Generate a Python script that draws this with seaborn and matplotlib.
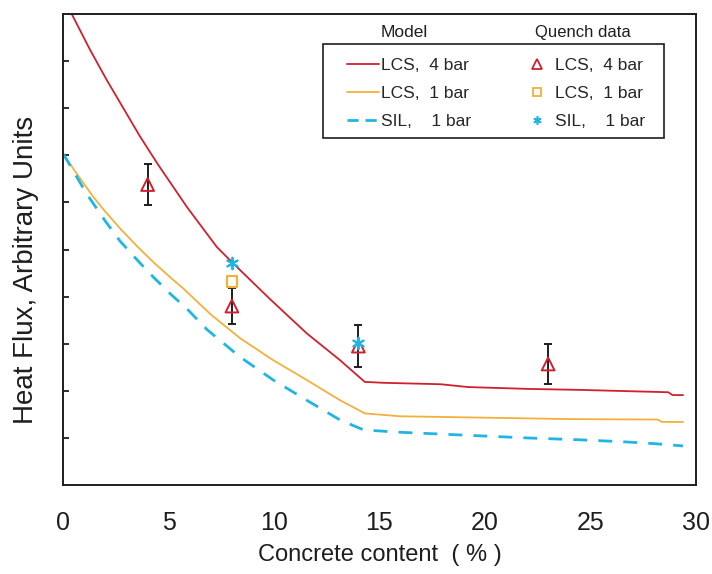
import matplotlib
matplotlib.use("Agg")
import matplotlib.pyplot as plt
from matplotlib.lines import Line2D
from matplotlib.patches import Rectangle
import seaborn as sns

# Model curves: heat flux (arbitrary units) vs concrete content (%)
lcs4_x = [0, 0.4, 1.27, 2.06, 2.85, 3.64, 4.5, 5.87, 7.29, 8.05, 9.8, 11.55, 13.13, 14.3,
          15.2, 17.9, 19.2, 22.1, 24.5, 28.7, 28.9, 29.4]
lcs4_y = [10.35, 10.0, 9.24, 8.6, 8.0, 7.4, 6.8, 5.9, 5.05, 4.71, 3.95, 3.22, 2.65, 2.19,
          2.17, 2.14, 2.08, 2.04, 2.02, 1.97, 1.91, 1.91]

lcs1_x = [0, 0.7, 1.42, 2.0, 2.69, 3.5, 4.3, 5.1, 5.7, 7.0, 8.38, 9.96, 11.55, 13.13, 14.31,
          15.97, 20, 24, 28.2, 28.4, 29.4]
lcs1_y = [7.03, 6.57, 6.12, 5.8, 5.45, 5.07, 4.72, 4.4, 4.17, 3.62, 3.12, 2.65, 2.23, 1.80,
          1.52, 1.46, 1.43, 1.40, 1.39, 1.34, 1.34]

sil1_x = [0, 1.11, 2.0, 2.69, 3.5, 4.26, 5.1, 5.87, 6.82, 8.38, 9.96, 11.55, 13.13, 14.25,
          15.97, 18, 20, 22, 24.5, 26.5, 28, 29.4]
sil1_y = [7.03, 6.18, 5.6, 5.18, 4.78, 4.42, 4.05, 3.74, 3.3, 2.72, 2.23, 1.80, 1.38, 1.17,
          1.12, 1.08, 1.04, 1.00, 0.96, 0.92, 0.88, 0.83]

# Quench data
tri_x = [4, 8, 14, 23]
tri_y = [6.38, 3.80, 2.95, 2.57]
tri_err = [0.43, 0.38, 0.45, 0.43]
sq_x = [8]
sq_y = [4.32]
star_x = [8, 14]
star_y = [4.72, 3.02]

x_ticks = [0, 5, 10, 15, 20, 25, 30]

RED = "#d0202e"
ORANGE = "#f2b03c"
CYAN = "#1fb6e4"
INK = "#1e1e1e"

sns.set_style("white")
plt.rcParams["font.family"] = ["Liberation Sans", "DejaVu Sans"]

fig = plt.figure(figsize=(7.12, 5.74), dpi=100)
ax = fig.add_axes([0.0889, 0.155, 0.8882, 0.8206])

sns.lineplot(x=lcs4_x, y=lcs4_y, ax=ax, color=RED, lw=1.3, sort=False, estimator=None)
sns.lineplot(x=lcs1_x, y=lcs1_y, ax=ax, color=ORANGE, lw=1.3, sort=False, estimator=None)
sns.lineplot(x=sil1_x, y=sil1_y, ax=ax, color=CYAN, lw=2.0, sort=False, estimator=None)
ax.lines[-1].set_dashes([5, 4])

ax.errorbar(tri_x, tri_y, yerr=tri_err, fmt="none", ecolor=INK, elinewidth=1.4,
            capsize=3, capthick=1.4, zorder=3)
sns.scatterplot(x=tri_x, y=tri_y, ax=ax, marker="^", s=85, facecolor="none",
                edgecolor=RED, linewidth=1.4, zorder=4)
sns.scatterplot(x=sq_x, y=sq_y, ax=ax, marker="s", s=55, facecolor="none",
                edgecolor=ORANGE, linewidth=1.6, zorder=4)
sns.scatterplot(x=star_x, y=star_y, ax=ax, marker=(6, 2, 0), s=70, color=CYAN,
                linewidth=1.4, zorder=5)

ax.set_xlim(0, 30)
ax.set_ylim(0, 10)
ax.set_xticks(x_ticks)
ax.set_xticklabels([str(t) for t in x_ticks], fontsize=18)
ax.set_yticks(range(1, 10))
ax.set_yticklabels([])
ax.tick_params(axis="x", direction="out", length=7, width=1.3, pad=12, colors=INK)
ax.tick_params(axis="y", direction="in", length=4, width=1.3, left=True, colors=INK)
for sp in ax.spines.values():
    sp.set_visible(True)
    sp.set_linewidth(1.4)
    sp.set_color(INK)

ax.set_xlabel("Concrete content  ( % )", fontsize=17, labelpad=6, color=INK)
ax.set_ylabel("Heat Flux, Arbitrary Units", fontsize=20, color=INK)
ax.yaxis.set_label_coords(-0.038, 0.456)

# Legend: two columns (model curves / quench data) inside a plain box
handles = [
    Line2D([], [], color=RED, lw=1.3),
    Line2D([], [], color=ORANGE, lw=1.3),
    Line2D([], [], color=CYAN, lw=2.0, dashes=[4, 2.5]),
    Line2D([], [], ls="none", marker="^", markersize=7, mfc="none", mec=RED, mew=1.3),
    Line2D([], [], ls="none", marker="s", markersize=6, mfc="none", mec=ORANGE, mew=1.3),
    Line2D([], [], ls="none", marker=(6, 2, 0), markersize=6, color=CYAN, mew=1.2),
]
labels = ["LCS,  4 bar", "LCS,  1 bar", "SIL,    1 bar",
          "LCS,  4 bar", "LCS,  1 bar", "SIL,    1 bar"]
ax.legend(handles, labels, ncol=2, loc="upper left", bbox_to_anchor=(0.4486, 0.9065),
          borderaxespad=0, borderpad=0, fontsize=12.5, handlelength=1.85,
          handletextpad=0.1, columnspacing=2.9, labelspacing=0.74, frameon=False)
ax.add_patch(Rectangle((0.411, 0.737), 0.539, 0.199, transform=ax.transAxes,
                       fill=False, edgecolor=INK, lw=1.2, zorder=6))

ax.text(0.539, 0.96, "Model", transform=ax.transAxes, ha="center", va="center",
        fontsize=12.5, color=INK)
ax.text(0.822, 0.96, "Quench data", transform=ax.transAxes, ha="center", va="center",
        fontsize=12, color=INK)

fig.savefig("out.png", dpi=100)
